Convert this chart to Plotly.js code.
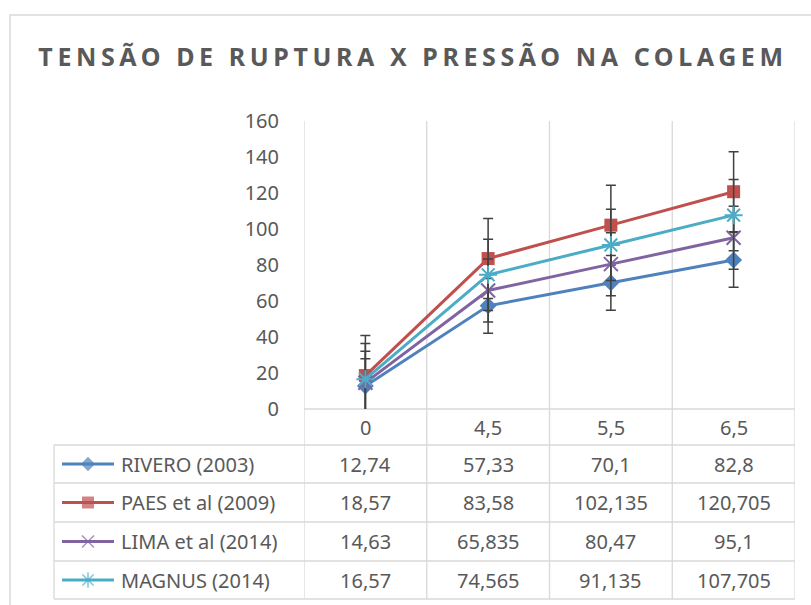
<!DOCTYPE html>
<html>
<head>
<meta charset="utf-8">
<script src="https://cdn.plot.ly/plotly-3.0.1.min.js"></script>
<style>html,body{margin:0;padding:0;background:#fff;}</style>
</head>
<body>
<div id="chart" style="width:811px;height:605px;"></div>
<script>
const chartTitle = 'TENSÃO DE RUPTURA X PRESSÃO NA COLAGEM';
const categories = ['0', '4,5', '5,5', '6,5'];
const seriesNames = ['RIVERO (2003)', 'PAES et al (2009)', 'LIMA et al (2014)', 'MAGNUS (2014)'];
const rivero = [12.74, 57.33, 70.1, 82.8];
const paes = [18.57, 83.58, 102.135, 120.705];
const lima = [14.63, 65.835, 80.47, 95.1];
const magnus = [16.57, 74.565, 91.135, 107.705];
const errRivero = [15.2, 15.2, 15.2, 15.2];
const errPaes = [22.2, 22.2, 22.2, 22.2];
const errLima = [17.5, 17.5, 17.5, 17.5];
const errMagnus = [19.8, 19.8, 19.8, 19.8];
const yTicks = [0, 20, 40, 60, 80, 100, 120, 140, 160];

const seriesValues = [rivero, paes, lima, magnus];
const seriesErrors = [errRivero, errPaes, errLima, errMagnus];
const colors = ['#4F81BD', '#C0504D', '#8064A2', '#4BACC6'];
const symbols = ['diamond', 'square', 'x-thin-open', 'asterisk-open'];
const sizes = [13, 13, 14, 15];
const keySizes = [11, 12, 12, 13];

const W = 811, H = 605;
const FONT = 'Noto Sans, Open Sans, sans-serif';
const TXT = '#595959';
const GRID = '#d9d9d9';
const py = v => 1 - v / H;
const pxp = v => v / W;

// Table geometry (pixels)
const plotTop = 121, plotBottom = 409;
const tableLeft = 54, tableRight = 795;
const rowLines = [445, 483, 522, 561, 599];
const headerCenter = 427;

const xIdx = categories.map((c, i) => i);
const fmt = v => String(v).replace('.', ',');

const traces = [];
seriesValues.forEach((vals, s) => {
  traces.push({
    type: 'scatter', mode: 'lines+markers',
    x: xIdx, y: vals, name: seriesNames[s],
    line: {color: colors[s], width: 3},
    marker: {symbol: symbols[s], size: sizes[s], color: colors[s],
             line: {color: colors[s], width: (s >= 2 ? 2 : 0)}},
    error_y: {type: 'data', array: seriesErrors[s], visible: true,
              color: '#404040', thickness: 1.5, width: 5},
    showlegend: false, hoverinfo: 'x+y'
  });
});

// legend keys inside the data table
seriesValues.forEach((vals, s) => {
  const yc = (rowLines[s] + rowLines[s + 1]) / 2;
  traces.push({
    type: 'scatter', mode: 'lines+markers', xaxis: 'x2', yaxis: 'y2',
    x: [62, 88, 114], y: [yc, yc, yc],
    line: {color: colors[s], width: 3},
    marker: {symbol: symbols[s], size: [0, keySizes[s], 0], color: colors[s],
             line: {color: colors[s], width: (s >= 2 ? 1.5 : 0)}},
    showlegend: false, hoverinfo: 'skip'
  });
});

const shapes = [];
// outer frame
shapes.push({type: 'rect', xref: 'paper', yref: 'paper',
  x0: pxp(10), x1: pxp(830), y0: py(15), y1: py(640),
  line: {color: GRID, width: 1.5}, layer: 'below'});
// vertical lines at category boundaries, through plot and table
for (let i = 0; i <= categories.length; i++) {
  shapes.push({type: 'line', xref: 'x', yref: 'paper',
    x0: i - 0.5, x1: i - 0.5, y0: py(plotTop), y1: py(rowLines[rowLines.length - 1]),
    line: {color: GRID, width: 1.3}, layer: 'below'});
}
// axis baseline / header row top
shapes.push({type: 'line', xref: 'x', yref: 'paper', x0: -0.5, x1: categories.length - 0.5,
  y0: py(plotBottom), y1: py(plotBottom), line: {color: GRID, width: 1.3}, layer: 'below'});
// table horizontal lines
rowLines.forEach(r => {
  shapes.push({type: 'line', xref: 'paper', yref: 'paper', x0: pxp(tableLeft), x1: pxp(tableRight),
    y0: py(r), y1: py(r), line: {color: GRID, width: 1.3}, layer: 'below'});
});
// table left border
shapes.push({type: 'line', xref: 'paper', yref: 'paper', x0: pxp(tableLeft), x1: pxp(tableLeft),
  y0: py(rowLines[0]), y1: py(rowLines[rowLines.length - 1]), line: {color: GRID, width: 1.3}, layer: 'below'});

const annotations = [];
const cellFont = {family: FONT, size: 20, color: TXT};
categories.forEach((c, i) => {
  annotations.push({xref: 'x', yref: 'paper', x: i, y: py(headerCenter), text: c,
    showarrow: false, xanchor: 'center', yanchor: 'middle', font: cellFont});
});
seriesValues.forEach((vals, s) => {
  const yc = (rowLines[s] + rowLines[s + 1]) / 2;
  annotations.push({xref: 'paper', yref: 'paper', x: pxp(119), y: py(yc), text: seriesNames[s],
    showarrow: false, xanchor: 'left', yanchor: 'middle', font: cellFont});
  vals.forEach((v, i) => {
    annotations.push({xref: 'x', yref: 'paper', x: i, y: py(yc), text: fmt(v),
      showarrow: false, xanchor: 'center', yanchor: 'middle', font: cellFont});
  });
});

const layout = {
  width: W, height: H,
  margin: {l: 0, r: 0, t: 0, b: 0},
  paper_bgcolor: '#ffffff', plot_bgcolor: 'rgba(0,0,0,0)',
  title: {text: chartTitle, x: 413 / W, xanchor: 'center', y: py(57), yanchor: 'middle',
          xref: 'paper', yref: 'paper',
          font: {family: FONT, size: 25, color: TXT, weight: 700}},
  xaxis: {domain: [304 / W, 795 / W], range: [-0.5, categories.length - 0.5],
          showgrid: false, zeroline: false, showline: false, showticklabels: false, ticks: ''},
  yaxis: {domain: [1 - plotBottom / H, 1 - plotTop / H], range: [0, 160],
          tickvals: yTicks, ticktext: yTicks.map(String),
          showgrid: false, zeroline: false, showline: false,
          ticks: 'outside', ticklen: 20, tickcolor: 'rgba(0,0,0,0)',
          tickfont: {family: FONT, size: 20, color: TXT}},
  xaxis2: {domain: [0, 1], range: [0, W], visible: false, anchor: 'y2', fixedrange: true},
  yaxis2: {domain: [0, 1], range: [H, 0], visible: false, anchor: 'x2', fixedrange: true},
  shapes: shapes, annotations: annotations
};

Plotly.newPlot('chart', traces, layout, {displayModeBar: false, staticPlot: true}).then(() => {
  document.querySelectorAll('.gtitle').forEach(t => { t.style.letterSpacing = '4.6px'; });
});
</script>
</body>
</html>
